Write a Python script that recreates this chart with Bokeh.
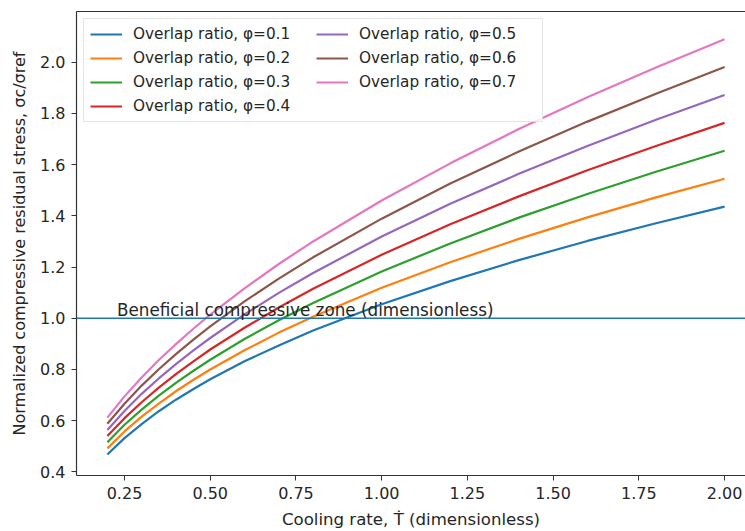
from bokeh.plotting import figure
from bokeh.models import (Legend, LegendItem, LinearAxis, Span, Label, FixedTicker,
                          PrintfTickFormatter, Range1d)
from bokeh.embed import file_html
from bokeh.resources import INLINE

# ---- data ----
cooling_rate = [0.2, 0.25, 0.3, 0.35, 0.4, 0.45, 0.5, 0.6, 0.7, 0.8, 1.0, 1.2, 1.4, 1.6, 1.8, 2.0]
phi_01 = [0.468, 0.532, 0.587, 0.637, 0.682, 0.723, 0.762, 0.832, 0.894, 0.952, 1.055, 1.145, 1.227, 1.302, 1.371, 1.436]
phi_02 = [0.492, 0.558, 0.616, 0.667, 0.715, 0.759, 0.800, 0.875, 0.944, 1.006, 1.119, 1.219, 1.310, 1.394, 1.472, 1.545]
phi_03 = [0.516, 0.584, 0.643, 0.698, 0.748, 0.794, 0.838, 0.919, 0.992, 1.060, 1.183, 1.292, 1.393, 1.485, 1.572, 1.654]
phi_04 = [0.540, 0.610, 0.672, 0.729, 0.782, 0.831, 0.878, 0.963, 1.042, 1.115, 1.248, 1.367, 1.476, 1.578, 1.673, 1.763]
phi_05 = [0.564, 0.638, 0.705, 0.765, 0.821, 0.874, 0.923, 1.015, 1.099, 1.177, 1.319, 1.447, 1.564, 1.673, 1.775, 1.872]
phi_06 = [0.588, 0.666, 0.737, 0.801, 0.860, 0.916, 0.968, 1.066, 1.155, 1.238, 1.389, 1.526, 1.651, 1.768, 1.877, 1.981]
phi_07 = [0.612, 0.695, 0.769, 0.837, 0.899, 0.958, 1.014, 1.117, 1.212, 1.300, 1.460, 1.605, 1.739, 1.863, 1.979, 2.090]

series_labels = ["Overlap ratio, φ=0.1", "Overlap ratio, φ=0.2", "Overlap ratio, φ=0.3",
                 "Overlap ratio, φ=0.4", "Overlap ratio, φ=0.5", "Overlap ratio, φ=0.6",
                 "Overlap ratio, φ=0.7"]
series_values = [phi_01, phi_02, phi_03, phi_04, phi_05, phi_06, phi_07]
colors = ["#1f77b4", "#ff7f0e", "#2ca02c", "#d62728", "#9467bd", "#8c564b", "#e377c2"]

x_ticks = [0.25, 0.50, 0.75, 1.00, 1.25, 1.50, 1.75, 2.00]
y_ticks = [0.4, 0.6, 0.8, 1.0, 1.2, 1.4, 1.6, 1.8, 2.0]

threshold = 1.0
threshold_text = "Beneficial compressive zone (dimensionless)"
threshold_text_x = 0.228
threshold_text_y = 1.032

x_label = "Cooling rate, Ṫ (dimensionless)"
y_label = "Normalized compressive residual stress, σc/σref"

FONT = "DejaVu Sans"
TXT = "#262626"
AX = "#333333"

p = figure(width=745, height=531, output_backend="svg", toolbar_location=None,
           x_range=Range1d(0.11, 2.061), y_range=Range1d(0.386, 2.198),
           min_border_left=76, min_border_right=0, min_border_top=11, min_border_bottom=56)
p.outline_line_color = None
p.background_fill_color = "white"
p.border_fill_color = "white"
p.xgrid.visible = False
p.ygrid.visible = False

renderers = []
for vals, col in zip(series_values, colors):
    r = p.line(cooling_rate, vals, line_color=col, line_width=2.2)
    renderers.append(r)

p.add_layout(Span(location=threshold, dimension="width", line_color="#1f77b4", line_width=1.6))
p.add_layout(Label(x=threshold_text_x, y=threshold_text_y, text=threshold_text,
                   text_font=FONT, text_font_size="16.8px", text_color=TXT,
                   text_baseline="alphabetic"))

for ax in (p.xaxis[0], p.yaxis[0]):
    ax.axis_line_color = AX
    ax.axis_line_width = 1.2
    ax.major_tick_line_color = AX
    ax.major_tick_out = 5
    ax.major_tick_in = 0
    ax.minor_tick_line_color = None
    ax.major_label_text_font = FONT
    ax.major_label_text_font_size = "16px"
    ax.major_label_text_color = TXT
    ax.axis_label_text_font = FONT
    ax.axis_label_text_font_style = "normal"
    ax.axis_label_text_color = TXT
    ax.major_label_standoff = 6

p.xaxis[0].ticker = FixedTicker(ticks=x_ticks)
p.xaxis[0].formatter = PrintfTickFormatter(format="%.2f")
p.xaxis[0].axis_label = x_label
p.xaxis[0].axis_label_text_font_size = "16.6px"
p.xaxis[0].axis_label_standoff = 8
p.yaxis[0].ticker = FixedTicker(ticks=y_ticks)
p.yaxis[0].formatter = PrintfTickFormatter(format="%.1f")
p.yaxis[0].axis_label = y_label
p.yaxis[0].axis_label_text_font_size = "16px"
p.yaxis[0].axis_label_standoff = 8

top = LinearAxis(ticker=FixedTicker(ticks=[]), major_label_text_font_size="0px",
                 major_tick_out=0, major_tick_in=0, minor_tick_out=0, minor_tick_in=0,
                 major_label_standoff=0, axis_line_color=AX, axis_line_width=1.2)
p.add_layout(top, "above")

legend = Legend(items=[LegendItem(label=l, renderers=[r]) for l, r in zip(series_labels, renderers)],
                ncols=2, location="top_left", margin=7, padding=6, spacing=6,
                label_height=16, glyph_height=16, glyph_width=32, label_standoff=11,
                label_width=177,
                label_text_font=FONT, label_text_font_size="15.3px", label_text_color=TXT,
                border_line_color="#cccccc", border_line_width=1,
                background_fill_color="white", background_fill_alpha=0.85)
p.add_layout(legend)

open("out.html", "w").write(file_html(p, INLINE))
